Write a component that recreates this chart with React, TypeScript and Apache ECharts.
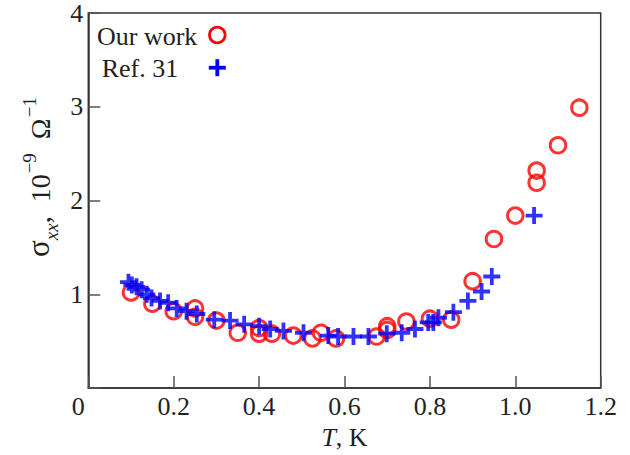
import React, { useEffect, useRef } from "react";
import * as echarts from "echarts";

// Our work (red circles)
const ourT = [0.1, 0.15, 0.2, 0.25, 0.25, 0.3, 0.35, 0.4, 0.4, 0.43, 0.48, 0.525, 0.545, 0.58, 0.675, 0.7, 0.7, 0.745, 0.8, 0.85, 0.9, 0.95, 1.0, 1.05, 1.05, 1.1, 1.15];
const ourSigma = [1.02, 0.9, 0.82, 0.85, 0.76, 0.72, 0.59, 0.64, 0.58, 0.58, 0.56, 0.53, 0.59, 0.53, 0.55, 0.66, 0.62, 0.71, 0.74, 0.73, 1.14, 1.59, 1.84, 2.19, 2.32, 2.59, 2.99];

// Ref. 31 (blue crosses)
const refT = [0.094, 0.102, 0.113, 0.125, 0.137, 0.148, 0.168, 0.187, 0.207, 0.23, 0.254, 0.295, 0.332, 0.365, 0.4, 0.426, 0.457, 0.504, 0.562, 0.585, 0.621, 0.656, 0.699, 0.734, 0.765, 0.796, 0.808, 0.82, 0.855, 0.889, 0.921, 0.945, 1.044];
const refSigma = [1.13, 1.1, 1.08, 1.05, 1.0, 0.96, 0.93, 0.91, 0.85, 0.82, 0.79, 0.73, 0.72, 0.68, 0.66, 0.63, 0.61, 0.59, 0.56, 0.55, 0.55, 0.55, 0.58, 0.59, 0.63, 0.7, 0.7, 0.75, 0.81, 0.93, 1.03, 1.19, 1.84];

const xTicks = [0, 0.2, 0.4, 0.6, 0.8, 1.0, 1.2];
const yTicks = [0, 1, 2, 3, 4];

const FONT = "'Liberation Serif', 'Times New Roman', serif";
const TXT = "#231f20";
const FS = 26;
const CROSS = "path://M0,6.6H17V10.4H0ZM6.6,0H10.4V17H6.6Z";

export default function App() {
  const ref = useRef<HTMLDivElement>(null);
  useEffect(() => {
    if (!ref.current) return;
    const chart = echarts.init(ref.current, null, { renderer: "svg" });
    chart.setOption({
      animation: false,
      backgroundColor: "#fff",
      grid: {
        left: 88.3,
        right: 29.3,
        top: 12.5,
        bottom: 63.3,
        show: true,
        borderColor: "#333",
        borderWidth: 1.5,
        backgroundColor: "transparent",
      },
      xAxis: {
        type: "value",
        min: xTicks[0],
        max: xTicks[xTicks.length - 1],
        interval: 0.2,
        name: "{i|T}, K",
        nameLocation: "middle",
        nameGap: 32,
        nameTextStyle: {
          fontFamily: FONT,
          fontSize: FS,
          color: TXT,
          rich: { i: { fontFamily: FONT, fontSize: FS, fontStyle: "italic", color: TXT } },
        },
        axisLine: { show: true, lineStyle: { color: "#333", width: 1.5 } },
        axisTick: { show: true, inside: true, length: 12, lineStyle: { color: "#555", width: 1.5 } },
        splitLine: { show: false },
        axisLabel: {
          fontFamily: FONT,
          fontSize: FS,
          color: TXT,
          margin: 5,
          formatter: (v: number) => (Math.abs(v) < 1e-9 ? "{z|0}" : v.toFixed(1)),
          rich: { z: { fontFamily: FONT, fontSize: FS, color: TXT, padding: [0, 20, 0, 0] } },
        },
      },
      yAxis: {
        type: "value",
        min: yTicks[0],
        max: yTicks[yTicks.length - 1],
        interval: 1,
        axisLine: { show: true, lineStyle: { color: "#333", width: 1.5 } },
        axisTick: { show: true, inside: true, length: 12, lineStyle: { color: "#555", width: 1.5 } },
        splitLine: { show: false },
        axisLabel: {
          fontFamily: FONT,
          fontSize: FS,
          color: TXT,
          margin: 5,
          formatter: (v: number) => (v === 0 ? "" : String(v)),
        },
      },
      graphic: [
        {
          type: "text",
          x: 37,
          y: 177,
          rotation: Math.PI / 2,
          style: {
            text: "{s|σ}{sub|xx}{n|,  10}{sup|−9}{n|  Ω}{sup|−1}",
            align: "center",
            verticalAlign: "middle",
            fill: TXT,
            font: `28px ${FONT}`,
            rich: {
              s: { fontFamily: FONT, fontSize: 31, fill: TXT, verticalAlign: "bottom", lineHeight: 34 },
              sub: { fontFamily: FONT, fontSize: 19, fontStyle: "italic", fill: TXT, verticalAlign: "bottom", lineHeight: 34, padding: [0, 0, -7, 0] },
              n: { fontFamily: FONT, fontSize: 28, fill: TXT, verticalAlign: "bottom", lineHeight: 34 },
              sup: { fontFamily: FONT, fontSize: 19, fill: TXT, verticalAlign: "top", lineHeight: 34, padding: [0, 0, 0, 1] },
            },
          },
        },
        {
          type: "text",
          x: 97,
          y: 36.5,
          style: { text: "Our work", font: `${FS}px ${FONT}`, fill: TXT, verticalAlign: "middle", align: "left" },
        },
        {
          type: "circle",
          shape: { cx: 217.3, cy: 35, r: 7.8 },
          style: { fill: "none", stroke: "#ff0000", lineWidth: 2.8 },
        },
        {
          type: "text",
          x: 101.7,
          y: 68.5,
          style: { text: "Ref. 31", font: `${FS}px ${FONT}`, fill: TXT, verticalAlign: "middle", align: "left" },
        },
        {
          type: "rect",
          shape: { x: 208.8, y: 65.8, width: 17, height: 3.8 },
          style: { fill: "#0000ff" },
        },
        {
          type: "rect",
          shape: { x: 215.4, y: 59.2, width: 3.8, height: 17 },
          style: { fill: "#0000ff" },
        },
      ],
      series: [
        {
          name: "Our work",
          type: "scatter",
          data: ourT.map((t, i) => [t, ourSigma[i]]),
          symbol: "circle",
          symbolSize: 15.5,
          itemStyle: { color: "transparent", borderColor: "#ff0000", borderWidth: 3 },
          z: 2,
        },
        {
          name: "Ref. 31",
          type: "scatter",
          data: refT.map((t, i) => [t, refSigma[i]]),
          symbol: CROSS,
          symbolSize: 17,
          itemStyle: { color: "#0000ff" },
          z: 3,
        },
      ],
    });
    return () => chart.dispose();
  }, []);
  return (
    <div
      ref={ref}
      style={{ position: "fixed", left: 0, top: 0, width: 630, height: 455, background: "#fff" }}
    />
  );
}
